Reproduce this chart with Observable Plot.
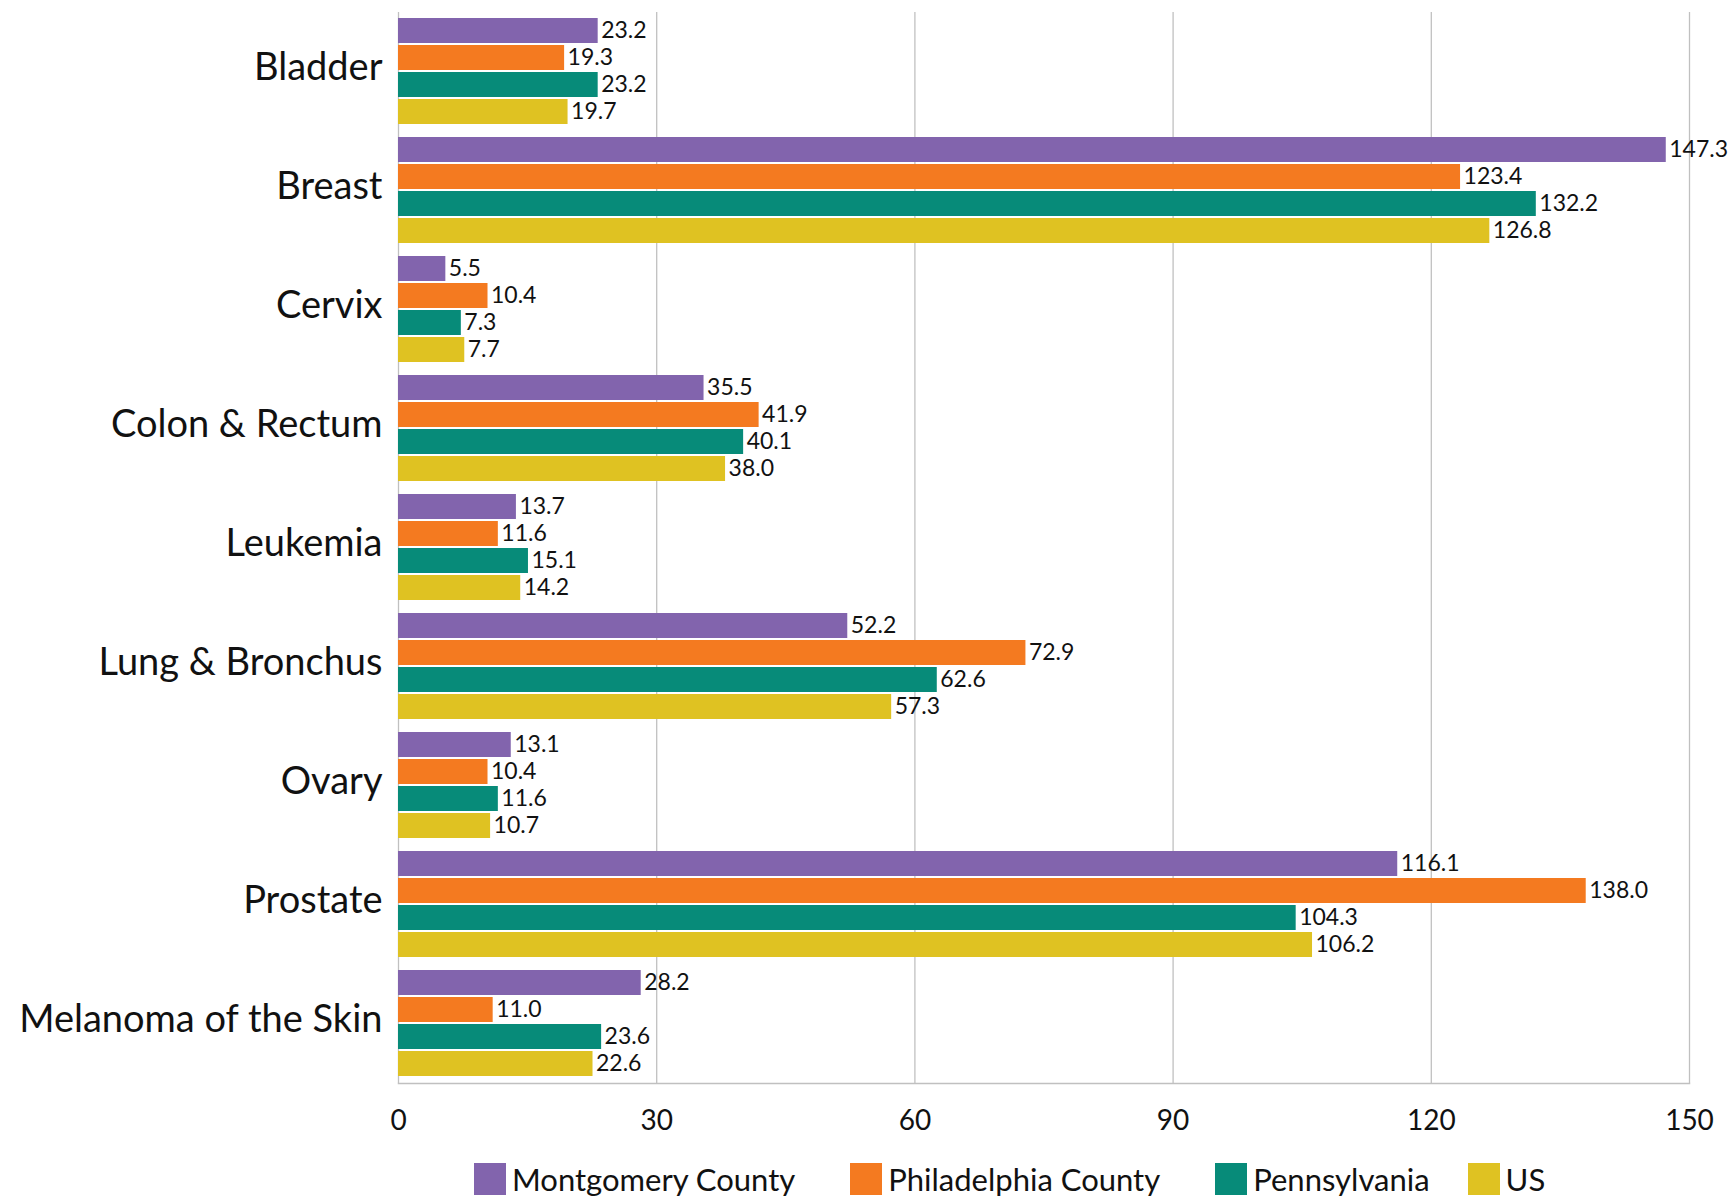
<!DOCTYPE html>
<html>
<head>
<meta charset="utf-8">
<script src="https://cdn.jsdelivr.net/npm/d3@7"></script>
<script src="https://cdn.jsdelivr.net/npm/@observablehq/plot@0.6"></script>
<style>
  body { margin: 0; background: #fff; font-family: Lato, "Noto Sans", sans-serif; }
  #chart { width: 1728px; }
  #legend { margin-left: 474px; margin-top: 15px; }
  #legend span { margin-right: 55px !important; font-size: 31px; color: #111; }
  #legend span:nth-of-type(3) { margin-right: 38px !important; }
  #legend span svg { margin-right: 6px !important; }
</style>
</head>
<body>
<div id="chart"></div>
<div id="legend"></div>
<script>
// Cancer incidence rates by site and geography
const categories = ["Bladder", "Breast", "Cervix", "Colon & Rectum", "Leukemia",
  "Lung & Bronchus", "Ovary", "Prostate", "Melanoma of the Skin"];
const seriesNames = ["Montgomery County", "Philadelphia County", "Pennsylvania", "US"];
const seriesColors = ["#8264ad", "#f47a20", "#078b79", "#dfc222"];

const montgomery   = [23.2, 147.3, 5.5, 35.5, 13.7, 52.2, 13.1, 116.1, 28.2];
const philadelphia = [19.3, 123.4, 10.4, 41.9, 11.6, 72.9, 10.4, 138.0, 11.0];
const pennsylvania = [23.2, 132.2, 7.3, 40.1, 15.1, 62.6, 11.6, 104.3, 23.6];
const us           = [19.7, 126.8, 7.7, 38.0, 14.2, 57.3, 10.7, 106.2, 22.6];

const xTicks = [0, 30, 60, 90, 120, 150];

// Long-format table: one row per category × series
const seriesValues = [montgomery, philadelphia, pennsylvania, us];
const rows = categories.flatMap((category, i) =>
  seriesValues.map((vals, j) => ({category, series: seriesNames[j], value: vals[i]}))
);

const chart = Plot.plot({
  width: 1728,
  height: 1145,
  marginLeft: 398,
  marginRight: 39,
  marginTop: 9,
  marginBottom: 59,
  style: {fontFamily: "Lato, 'Noto Sans', sans-serif", background: "white", color: "#111"},
  x: {domain: [0, 150], ticks: xTicks},
  y: {domain: seriesNames, axis: null, paddingInner: 0.07, paddingOuter: 0.2},
  fy: {domain: categories, padding: 0},
  color: {domain: seriesNames, range: seriesColors},
  marks: [
    Plot.ruleX(xTicks, {stroke: "#c0c0c0", strokeWidth: 1.3}),
    Plot.frame({anchor: "bottom", stroke: "#c0c0c0", strokeWidth: 1.5, facetAnchor: "bottom"}),
    Plot.barX(rows, {fy: "category", y: "series", x: "value", fill: "series"}),
    Plot.text(rows, {
      fy: "category", y: "series", x: "value",
      text: d => d.value.toFixed(1),
      textAnchor: "start", dx: 3, fontSize: 23, fill: "#111"
    }),
    Plot.axisX({ticks: xTicks, tickSize: 0, tickPadding: 27, fontSize: 28, label: null}),
    Plot.axisFy({anchor: "left", tickSize: 0, tickPadding: 16, dy: -4, fontSize: 38, label: null})
  ]
});
document.getElementById("chart").append(chart);

const legend = Plot.legend({
  color: {domain: seriesNames, range: seriesColors},
  legend: "swatches",
  swatchSize: 32,
  style: {fontFamily: "Lato, 'Noto Sans', sans-serif", fontSize: "31px"}
});
document.getElementById("legend").append(legend);
</script>
</body>
</html>
